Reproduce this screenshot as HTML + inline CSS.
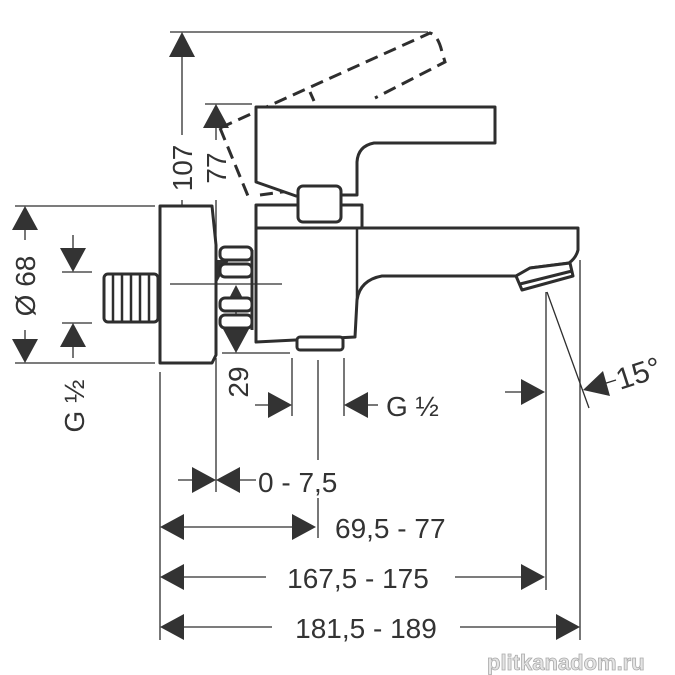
<!DOCTYPE html>
<html><head><style>
html,body{margin:0;padding:0;background:#fff;}
svg{display:block;}
text{font-family:"Liberation Sans",sans-serif;fill:#333;}
</style></head><body>
<svg width="675" height="675" viewBox="0 0 675 675" xmlns="http://www.w3.org/2000/svg">
<g fill="none" stroke="#2e2e2e" stroke-width="1.3">
<line x1="170" y1="32" x2="428" y2="32"/>
<line x1="182" y1="55" x2="182" y2="135"/>
<line x1="182" y1="200" x2="182" y2="262"/>
<line x1="205" y1="104" x2="252" y2="104"/>
<line x1="216" y1="128" x2="216" y2="140"/>
<line x1="216" y1="200" x2="216" y2="262"/>
<line x1="15" y1="206" x2="155" y2="206"/>
<line x1="15" y1="363" x2="155" y2="363"/>
<line x1="25" y1="230" x2="25" y2="240"/>
<line x1="25" y1="330" x2="25" y2="340"/>
<line x1="73" y1="235" x2="73" y2="250"/>
<line x1="62" y1="272" x2="92" y2="272"/>
<line x1="62" y1="323" x2="92" y2="323"/>
<line x1="73" y1="345" x2="73" y2="358"/>
<line x1="236" y1="300" x2="236" y2="340"/>
<line x1="222" y1="353" x2="290" y2="353"/>
<line x1="160" y1="372" x2="160" y2="640"/>
<line x1="216" y1="358" x2="216" y2="492"/>
<line x1="292" y1="358" x2="292" y2="416"/>
<line x1="318" y1="360" x2="318" y2="460"/>
<line x1="318" y1="498" x2="318" y2="538"/>
<line x1="344" y1="358" x2="344" y2="416"/>
<line x1="546" y1="292" x2="546" y2="590"/>
<line x1="580" y1="260" x2="580" y2="640"/>
<line x1="547" y1="292" x2="589" y2="408"/>
<line x1="255" y1="405" x2="272" y2="405"/>
<line x1="366" y1="405" x2="378" y2="405"/>
<line x1="505" y1="392" x2="522" y2="392"/>
<line x1="600" y1="385" x2="616" y2="380"/>
<line x1="178" y1="480" x2="195" y2="480"/>
<line x1="238" y1="480" x2="256" y2="480"/>
<line x1="184" y1="527" x2="294" y2="527"/>
<line x1="184" y1="577" x2="266" y2="577"/>
<line x1="455" y1="577" x2="522" y2="577"/>
<line x1="184" y1="627" x2="272" y2="627"/>
<line x1="460" y1="627" x2="556" y2="627"/>
<line x1="357" y1="110" x2="357" y2="158"/>
</g>
<g fill="#333">
<polygon points="182,32 169,57 195,57"/>
<polygon points="182,284 169,260 195,260"/>
<polygon points="216,104 203,128 229,128"/>
<polygon points="216,284 203,260 229,260"/>
<polygon points="25,206 12,230 38,230"/>
<polygon points="25,363 12,339 38,339"/>
<polygon points="73,272 60,248 86,248"/>
<polygon points="73,323 60,347 86,347"/>
<polygon points="236,285 223,310 249,310"/>
<polygon points="236,353 223,329 249,329"/>
<polygon points="292,405 268,392 268,418"/>
<polygon points="344,405 368,392 368,418"/>
<polygon points="545,392 521,379 521,405"/>
<polygon points="583,390 603,371 610,396"/>
<polygon points="216,480 192,467 192,493"/>
<polygon points="216,480 240,467 240,493"/>
<polygon points="160,527 184,514 184,540"/>
<polygon points="316,527 292,514 292,540"/>
<polygon points="160,577 184,564 184,590"/>
<polygon points="545,577 521,564 521,590"/>
<polygon points="160,627 184,614 184,640"/>
<polygon points="580,627 556,614 556,640"/>
</g>
<g fill="none" stroke="#2e2e2e" stroke-width="3" stroke-dasharray="13,7">
<path d="M220,128 L430,33 Q438,35 442,52 L445,62 L375,98"/>
<path d="M220,128 L248,196"/>
<path d="M260,195 L296,190"/>
</g>
<line x1="310" y1="92" x2="314" y2="101" stroke="#2e2e2e" stroke-width="3"/>
<g fill="#fff" stroke="#2e2e2e" stroke-width="3" stroke-linejoin="round">
<path d="M256,107 L495,107 L495,143 L374,143 Q358,146 357,162 L357,195 L340,195 L296,196 L256,182 Z"/>
<rect x="256" y="205" width="106" height="23"/>
<path d="M256,228 L578,228 L578,250 Q576,258 569,263 L530,268 L516,276 L382,276 Q360,280 357,300 L355,337 L256,342 Z"/>
<line x1="357" y1="228" x2="357" y2="300" stroke-width="2.5"/>
<rect x="298" y="186" width="43" height="36" rx="5"/>
<path d="M516,276 L530,268 L570,263 L573,276 L522,290 Z"/>
<line x1="520" y1="284" x2="572" y2="271"/>
<rect x="297" y="337" width="46" height="13" rx="3"/>
<path d="M160,206 L212,206 L216,245 L216,355 L212,363 L160,363 Z"/>
<rect x="104" y="274" width="54" height="48" rx="4"/>
<rect x="220" y="247" width="32" height="13" rx="5"/>
<rect x="220" y="264" width="32" height="13" rx="5"/>
<rect x="220" y="298" width="32" height="13" rx="5"/>
<rect x="220" y="315" width="32" height="13" rx="5"/>
<line x1="252" y1="250" x2="252" y2="330"/>
</g>
<g stroke="#2e2e2e" stroke-width="2.5">
<line x1="113" y1="275" x2="113" y2="321"/>
<line x1="122" y1="275" x2="122" y2="321"/>
<line x1="131" y1="275" x2="131" y2="321"/>
<line x1="140" y1="275" x2="140" y2="321"/>
<line x1="149" y1="275" x2="149" y2="321"/>
</g>
<line x1="170" y1="284" x2="282" y2="284" stroke="#2e2e2e" stroke-width="1.3"/>
<g font-size="28">
<text transform="translate(192,168) rotate(-90)" text-anchor="middle">107</text>
<text transform="translate(226,168) rotate(-90)" text-anchor="middle">77</text>
<text transform="translate(35,286) rotate(-90)" text-anchor="middle">Ø 68</text>
<text transform="translate(84,406) rotate(-90)" text-anchor="middle">G ½</text>
<text transform="translate(248,382) rotate(-90)" text-anchor="middle">29</text>
<text x="386" y="416">G ½</text>
<text transform="translate(620,390) rotate(-18)" font-size="30">15°</text>
<text x="258" y="492">0 - 7,5</text>
<text x="335" y="538">69,5 - 77</text>
<text x="358" y="588" text-anchor="middle">167,5 - 175</text>
<text x="366" y="638" text-anchor="middle">181,5 - 189</text>
</g>
<text x="487" y="670" font-size="22" font-weight="bold" style="fill:#e4e4e4;stroke:#aaa;stroke-width:0.8">plitkanadom.ru</text>
</svg>
</body></html>
